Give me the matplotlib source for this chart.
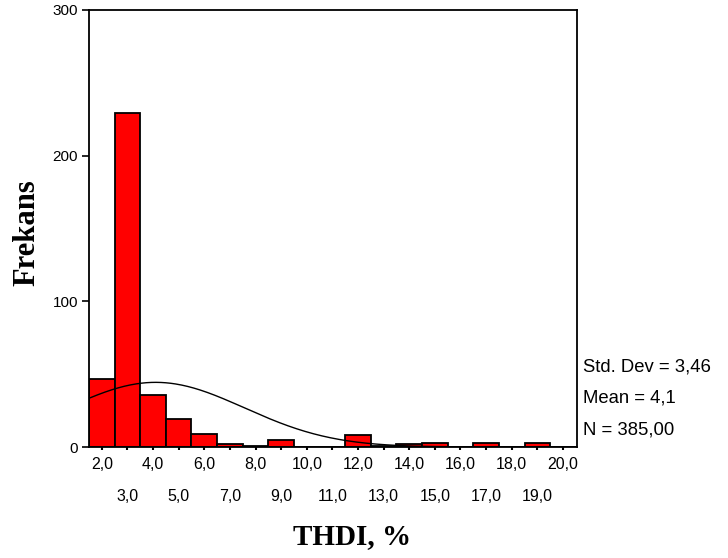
import numpy as np
import matplotlib.pyplot as plt
from matplotlib.ticker import FixedLocator

# THDI histogram (bin centres, 1.0 wide) and counts
bin_centers = [2, 3, 4, 5, 6, 7, 8, 9, 10, 11, 12, 13, 14, 15, 16, 17, 18, 19, 20]
counts = [47, 229, 36, 19, 9, 2, 1, 5, 0, 0, 8, 1, 2, 3, 0, 3, 0, 3, 0]

# summary statistics shown at the right
std_dev = 3.46
mean = 4.1
n_total = 385

even_ticks = [2, 4, 6, 8, 10, 12, 14, 16, 18, 20]
odd_ticks = [3, 5, 7, 9, 11, 13, 15, 17, 19]
y_ticks = [0, 100, 200, 300]

sans = 'Liberation Sans'
serif = 'Liberation Serif'


def comma(v, nd):
    return f'{v:.{nd}f}'.replace('.', ',')


fig = plt.figure(figsize=(7.28, 5.58), dpi=100)
ax = fig.add_axes([0.1223, 0.1989, 0.6703, 0.7832])

ax.bar(bin_centers, counts, width=1.0, color='#ff0000', edgecolor='black',
       linewidth=1.3, zorder=2)

# fitted normal curve from the stated mean / std dev
xs = np.linspace(1.5, 20.5, 400)
ys = n_total * 1.0 / (std_dev * np.sqrt(2 * np.pi)) * np.exp(-0.5 * ((xs - mean) / std_dev) ** 2)
ax.plot(xs, ys, color='black', linewidth=1.0, zorder=3)

ax.set_xlim(1.5, 20.55)
ax.set_ylim(0, 300)

for s in ax.spines.values():
    s.set_linewidth(1.3)

ax.set_yticks(y_ticks)
ax.set_yticklabels([str(v) for v in y_ticks], fontfamily=sans, fontsize=11)
ax.tick_params(axis='y', length=5, width=1.2, pad=3)

ax.xaxis.set_major_locator(FixedLocator(even_ticks))
ax.xaxis.set_minor_locator(FixedLocator(odd_ticks))
ax.set_xticklabels([comma(v, 1) for v in even_ticks], fontfamily=sans, fontsize=11.5)
ax.set_xticklabels([comma(v, 1) for v in odd_ticks], minor=True, fontfamily=sans, fontsize=11.5)
ax.tick_params(axis='x', which='major', length=2, width=1.5, pad=5.5)
ax.tick_params(axis='x', which='minor', length=2, width=1.5, pad=28.5)

ax.set_ylabel('Frekans', fontfamily=serif, fontweight='bold', fontsize=22)
ax.yaxis.set_label_coords(-0.098, 0.49)
ax.set_xlabel('THDI, %', fontfamily=serif, fontweight='bold', fontsize=21)
ax.xaxis.set_label_coords(0.539, -0.175)

stats = [f'Std. Dev = {comma(std_dev, 2)}',
         f'Mean = {comma(mean, 1)}',
         f'N = {comma(n_total, 2)}']
for txt, yy in zip(stats, [0.183, 0.112, 0.039]):
    ax.text(1.012, yy, txt, transform=ax.transAxes, fontfamily=sans,
            fontsize=13.3, va='center', ha='left')

fig.savefig('out.png', dpi=100)
plt.close(fig)
